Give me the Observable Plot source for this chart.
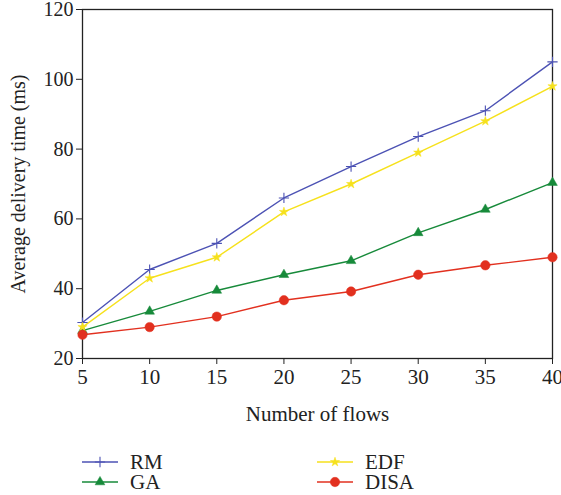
<!DOCTYPE html>
<html>
<head>
<meta charset="utf-8">
<script src="https://cdn.jsdelivr.net/npm/d3@7"></script>
<script src="https://cdn.jsdelivr.net/npm/@observablehq/plot@0.6"></script>
<style>
  html, body { margin: 0; padding: 0; background: #fff; }
  #chart { width: 561px; }
  #legend { position: relative; width: 561px; height: 65px; }
</style>
</head>
<body>
<div id="chart"></div>
<div id="legend"></div>
<script>
const flows = [5, 10, 15, 20, 25, 30, 35, 40];
const rm   = [30.3, 45.5, 53, 66, 75, 83.6, 91, 105];
const edf  = [29, 43, 49, 62, 70, 79, 88, 98];
const ga   = [28, 33.5, 39.5, 44, 48, 56, 62.7, 70.4];
const disa = [26.8, 29, 32, 36.7, 39.2, 44, 46.7, 49];
const seriesNames = ["RM", "GA", "EDF", "DISA"];
const seriesValues = {RM: rm, GA: ga, EDF: edf, DISA: disa};
const colors = {RM: "#4c52b4", GA: "#178a3a", EDF: "#f6e11c", DISA: "#e2301f"};
const symbols = {RM: "plus", GA: "triangle", EDF: "star", DISA: "circle"};
const radii = {RM: 3.4, GA: 3.6, EDF: 2.9, DISA: 4.7};
const xTicks = [5, 10, 15, 20, 25, 30, 35, 40];
const yTicks = [20, 40, 60, 80, 100, 120];

const data = seriesNames.flatMap(s => flows.map((f, i) => ({series: s, flows: f, value: seriesValues[s][i]})));

const font = "Liberation Serif, Times New Roman, serif";
const chart = Plot.plot({
  width: 561,
  height: 430,
  marginLeft: 82,
  marginRight: 9,
  marginTop: 9,
  marginBottom: 72,
  style: {fontFamily: font, fontSize: "21px", color: "#222", background: "#fff"},
  x: {domain: [5, 40]},
  y: {domain: [20, 120]},
  marks: [
    Plot.frame({stroke: "#222", strokeWidth: 1.3}),
    Plot.axisY({ticks: yTicks, tickSize: 6, tickPadding: 3, label: "Average delivery time (ms)", labelAnchor: "center", labelArrow: "none", labelOffset: 72, fontSize: 20}),
    Plot.axisX({ticks: xTicks, tickSize: 6, tickPadding: 5, label: "Number of flows", labelAnchor: "center", labelArrow: "none", labelOffset: 62, fontSize: 21}),
    ...seriesNames.map(s => Plot.line(data.filter(d => d.series === s), {x: "flows", y: "value", stroke: colors[s], strokeWidth: 1.4})),
    ...seriesNames.map(s => Plot.dot(data.filter(d => d.series === s), {
      x: "flows", y: "value", symbol: () => symbols[s], r: radii[s],
      fill: s === "RM" ? "none" : colors[s], stroke: colors[s], strokeWidth: s === "RM" ? 1.1 : 0.5
    }))
  ]
});
document.getElementById("chart").appendChild(chart);

// Legend
const leg = d3.select("#legend");
const positions = {RM: [82, 32], GA: [82, 52], EDF: [317, 32], DISA: [317, 52]};
const svg = leg.append("svg").attr("width", 561).attr("height", 65).style("position", "absolute").style("left", 0).style("top", 0);
seriesNames.forEach(s => {
  const [x, y] = positions[s];
  svg.append("line").attr("x1", x).attr("x2", x + 36).attr("y1", y).attr("y2", y).attr("stroke", colors[s]).attr("stroke-width", 1.4);
  const sym = {plus: d3.symbolPlus, triangle: d3.symbolTriangle, star: d3.symbolStar, circle: d3.symbolCircle}[symbols[s]];
  svg.append("path").attr("d", d3.symbol(sym, Math.PI * radii[s] * radii[s])()).attr("transform", `translate(${x + 18},${y})`)
    .attr("fill", s === "RM" ? "none" : colors[s]).attr("stroke", colors[s]).attr("stroke-width", s === "RM" ? 1.1 : 0.5);
  svg.append("text").attr("x", x + 48).attr("y", y).attr("dy", "0.35em").attr("font-family", font).attr("font-size", 21).attr("fill", "#222").text(s);
});
</script>
</body>
</html>
